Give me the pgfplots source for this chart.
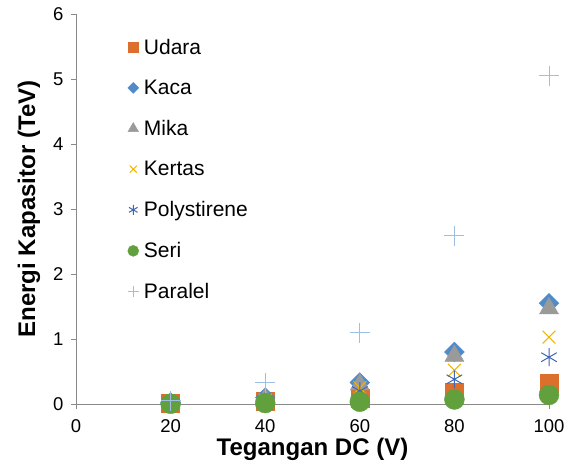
\documentclass[border=0pt]{standalone}
\usepackage{pgfplots}
\pgfplotsset{compat=1.18}
\usepackage{fontspec}
\setmainfont{Liberation Sans}
\definecolor{cUdara}{HTML}{DD6F2C}
\definecolor{cKaca}{HTML}{4F8BC9}
\definecolor{cMika}{HTML}{9A9A9A}
\definecolor{cKertas}{HTML}{F0B400}
\definecolor{cPoly}{HTML}{4066B8}
\definecolor{cSeri}{HTML}{62A03E}
\definecolor{cPar}{HTML}{9DBFE6}
\definecolor{axgray}{HTML}{898989}
\begin{document}
\begin{tikzpicture}
\begin{axis}[
  scale only axis,
  width=473pt, height=390pt,
  xmin=0, xmax=100, ymin=0, ymax=6,
  xtick={0,20,40,60,80,100},
  ytick={0,1,2,3,4,5,6},
  axis x line*=bottom, axis y line*=left,
  axis line style={axgray, line width=0.9pt, -},
  tick style={axgray, line width=0.9pt},
  tick align=outside,
  major tick length=5pt,
  ticklabel style={font=\fontsize{18.5}{21}\selectfont},
  xticklabel style={yshift=-7pt},
  yticklabel style={xshift=-4pt},
  /pgf/number format/assume math mode=true,
  xlabel={\bfseries Tegangan DC (V)},
  ylabel={\bfseries Energi Kapasitor (TeV)},
  label style={font=\fontsize{24}{28}\selectfont},
  xlabel style={yshift=1pt},
  ylabel style={yshift=6pt},
  clip=false,
  legend style={draw=none, fill=none, at={(axis cs:10.9,5.65)}, anchor=north west,
    font=\fontsize{21}{25}\selectfont, row sep=20.3pt, inner sep=0pt,
    legend cell align=left, nodes={inner sep=2pt}},
  legend image code/.code={\path (0pt,0pt) (11pt,0pt); \draw[mark repeat=2,mark phase=2,scale=0.55] plot coordinates {(0cm,0cm) (0.18cm,0cm) (0.36cm,0cm)};},
  only marks,
]
\addplot[mark=square*, mark size=9pt, color=cUdara, mark options={fill=cUdara}] coordinates {(20,0.013) (40,0.05) (60,0.09) (80,0.18) (100,0.32)};
\addlegendentry{Udara}
\addplot[mark=square*, mark size=7pt, color=cKaca, mark options={fill=cKaca, rotate=45}] coordinates {(20,0.02) (40,0.1) (60,0.33) (80,0.8) (100,1.55)};
\addlegendentry{Kaca}
\addplot[mark=triangle*, mark size=11pt, color=cMika, mark options={fill=cMika}] coordinates {(20,0.015) (40,0.08) (60,0.3) (80,0.74) (100,1.47)};
\addlegendentry{Mika}
\addplot[mark=x, mark size=9pt, color=cKertas, line width=1pt] coordinates {(20,0.01) (40,0.06) (60,0.25) (80,0.52) (100,1.03)};
\addlegendentry{Kertas}
\addplot[mark=asterisk, mark size=9pt, color=cPoly, line width=1pt] coordinates {(20,0.008) (40,0.05) (60,0.2) (80,0.38) (100,0.72)};
\addlegendentry{Polystirene}
\addplot[mark=*, mark size=10pt, color=cSeri, mark options={fill=cSeri}] coordinates {(20,0.004) (40,0.015) (60,0.035) (80,0.07) (100,0.14)};
\addlegendentry{Seri}
\addplot[mark=+, mark size=10pt, color=cPar, line width=1pt] coordinates {(20,0.05) (40,0.33) (60,1.1) (80,2.59) (100,5.05)};
\addlegendentry{Paralel}
\end{axis}
\path (current axis.south west) ++(-76pt,-62pt);
\path (current axis.north east) ++(23pt,14pt);
\end{tikzpicture}
\end{document}
